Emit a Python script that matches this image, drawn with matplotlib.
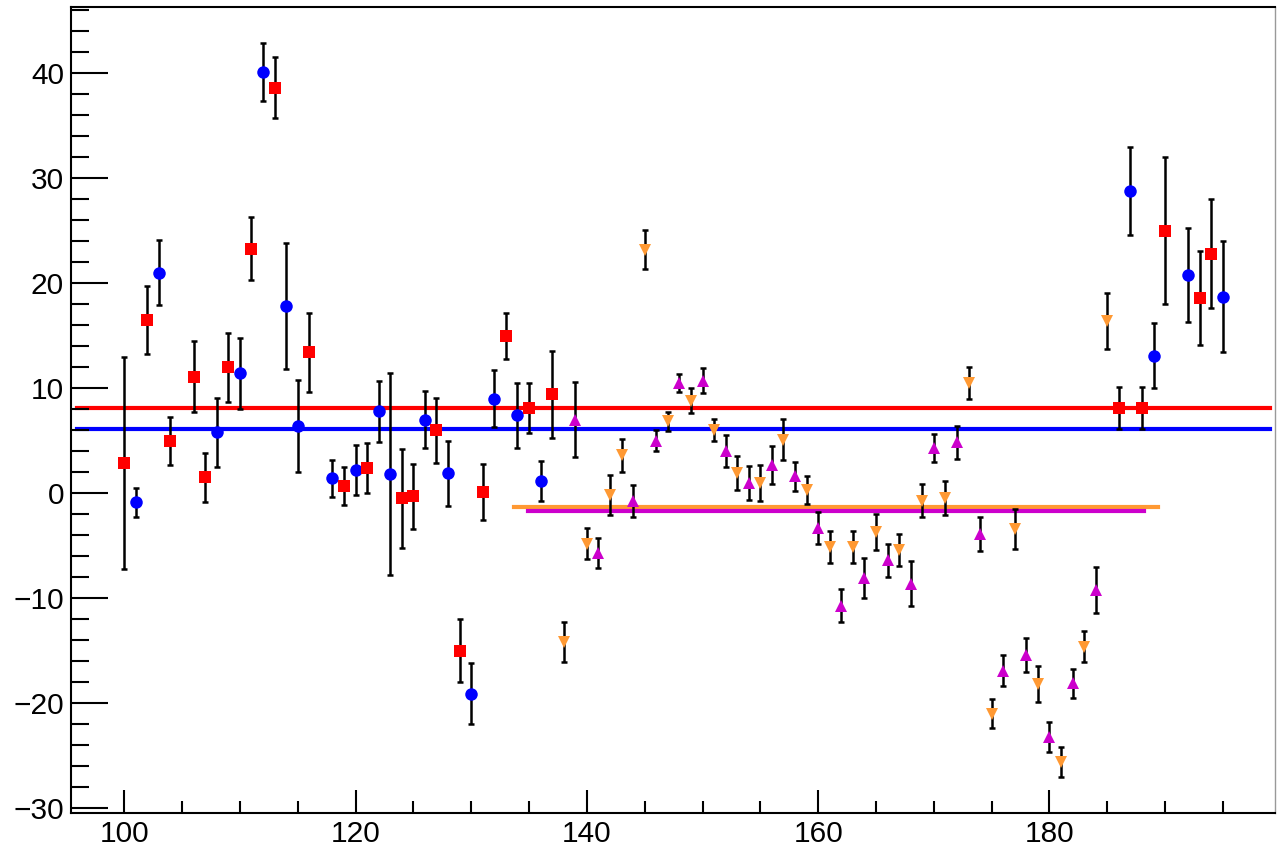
import matplotlib.pyplot as plt
import numpy as np
from matplotlib.ticker import MultipleLocator

plt.rcParams['font.family'] = ['Liberation Sans', 'DejaVu Sans']

# blue circles
blue_x = [101, 103, 108, 110, 112, 114, 115, 118, 120, 122, 123, 126, 128, 130, 132, 134, 136,
          187, 189, 192, 195]
blue_y = [-0.86, 21.0, 5.8, 11.4, 40.1, 17.8, 6.4, 1.4, 2.2, 7.8, 1.8, 7.0, 1.9, -19.1, 9.0, 7.4, 1.2,
          28.8, 13.1, 20.8, 18.7]
blue_e = [1.4, 3.1, 3.3, 3.4, 2.8, 6.0, 4.4, 1.8, 2.4, 2.9, 9.6, 2.7, 3.1, 2.9, 2.7, 3.1, 1.9,
          4.2, 3.1, 4.5, 5.3]

# red squares
red_x = [100, 102, 104, 106, 107, 109, 111, 113, 116, 119, 121, 124, 125, 127, 129, 131, 133, 135, 137,
         186, 188, 190, 193, 194]
red_y = [2.9, 16.5, 5.0, 11.1, 1.5, 12.0, 23.3, 38.6, 13.4, 0.7, 2.4, -0.5, -0.3, 6.0, -15.0, 0.1, 15.0, 8.1, 9.4,
         8.1, 8.1, 25.0, 18.6, 22.8]
red_e = [10.1, 3.2, 2.3, 3.4, 2.3, 3.3, 3.0, 2.9, 3.8, 1.8, 2.4, 4.7, 3.1, 3.1, 3.0, 2.7, 2.2, 2.4, 4.1,
         2.0, 2.0, 7.0, 4.5, 5.2]

# orange down triangles
orange_x = [138, 140, 142, 143, 145, 147, 149, 151, 153, 155, 157, 159, 161, 163, 165, 167, 169, 171,
            173, 175, 177, 179, 181, 183, 185]
orange_y = [-14.2, -4.8, -0.2, 3.6, 23.2, 6.85, 8.8, 6.0, 1.9, 0.95, 5.1, 0.3, -5.1, -5.1, -3.7, -5.4,
            -0.7, -0.45, 10.5, -21.0, -3.4, -18.2, -25.6, -14.6, 16.4]
orange_e = [1.9, 1.5, 1.9, 1.55, 1.85, 0.9, 1.2, 1.05, 1.6, 1.7, 1.95, 1.3, 1.5, 1.5, 1.75, 1.5,
            1.6, 1.6, 1.5, 1.4, 1.9, 1.7, 1.4, 1.5, 2.7]

# magenta up triangles
mag_x = [139, 141, 144, 146, 148, 150, 152, 154, 156, 158, 160, 162, 164, 166, 168, 170, 172, 174,
         176, 178, 180, 182, 184]
mag_y = [7.0, -5.7, -0.75, 5.0, 10.5, 10.7, 4.0, 0.95, 2.7, 1.6, -3.3, -10.7, -8.1, -6.4, -8.6, 4.3,
         4.85, -3.9, -16.9, -15.4, -23.2, -18.1, -9.2]
mag_e = [3.6, 1.4, 1.5, 1.0, 0.85, 1.2, 1.5, 1.6, 1.8, 1.35, 1.5, 1.6, 1.9, 1.55, 2.15, 1.35,
         1.55, 1.6, 1.5, 1.6, 1.4, 1.4, 2.2]

# fitted constants and their ranges
red_fit, blue_fit, orange_fit, mag_fit = 8.1, 6.1, -1.3, -1.7
red_rng = (95.9, 199.1)
blue_rng = (95.9, 199.1)
orange_rng = (133.7, 189.4)
mag_rng = (134.9, 188.2)

c_blue = '#0000ff'
c_red = '#ff0000'
c_orange = '#ff9933'
c_mag = '#cc00cc'

fig = plt.figure(figsize=(12.79, 8.51), dpi=100)
ax = fig.add_axes([0.0555, 0.0447, 0.9414, 0.9471])

# constant fit lines
ax.plot(red_rng, [red_fit, red_fit], color=c_red, lw=3, zorder=1)
ax.plot(blue_rng, [blue_fit, blue_fit], color=c_blue, lw=3, zorder=1)
ax.plot(orange_rng, [orange_fit, orange_fit], color=c_orange, lw=3, zorder=1)
ax.plot(mag_rng, [mag_fit, mag_fit], color=c_mag, lw=3, zorder=1)

# data with error bars
series = [
    (blue_x, blue_y, blue_e, 'o', c_blue, 9),
    (red_x, red_y, red_e, 's', c_red, 8.5),
    (orange_x, orange_y, orange_e, 'v', c_orange, 8.5),
    (mag_x, mag_y, mag_e, '^', c_mag, 8.5),
]
for x, y, e, m, c, ms in series:
    ax.errorbar(x, y, yerr=e, fmt='none', ecolor='black', elinewidth=1.8,
                capsize=2.5, capthick=1.8, zorder=2)
    ax.plot(x, y, linestyle='none', marker=m, color=c, markersize=ms,
            markeredgewidth=0, zorder=3)

ax.set_xlim(95.4, 199.5)
ax.set_ylim(-30.45, 46.3)

ax.xaxis.set_major_locator(MultipleLocator(20))
ax.xaxis.set_minor_locator(MultipleLocator(5))
ax.yaxis.set_major_locator(MultipleLocator(10))
ax.yaxis.set_minor_locator(MultipleLocator(2))

ax.tick_params(axis='both', which='both', direction='in', top=False, right=False,
               width=1.5, labelsize=21.5)
ax.tick_params(axis='x', which='major', length=16.5, pad=5)
ax.tick_params(axis='x', which='minor', length=8.5)
ax.tick_params(axis='y', which='major', length=26.5, pad=5)
ax.tick_params(axis='y', which='minor', length=13)

for s in ax.spines.values():
    s.set_linewidth(1.5)
ax.spines['right'].set_color('#999999')
ax.spines['right'].set_linewidth(1)

fig.savefig('out.png', dpi=100)
